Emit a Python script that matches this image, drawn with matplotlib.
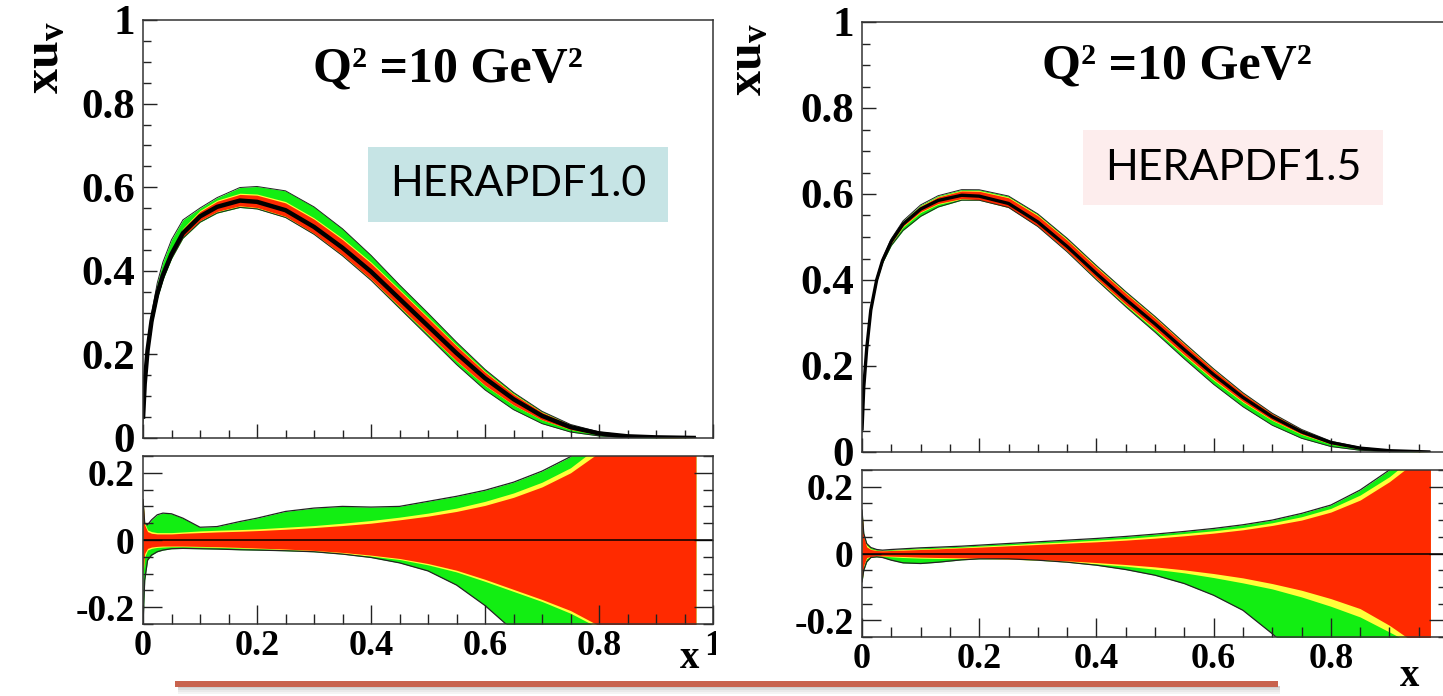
import numpy as np
import matplotlib
matplotlib.use('Agg')
import matplotlib.pyplot as plt
from matplotlib.patches import Rectangle
from matplotlib.ticker import MultipleLocator, FixedLocator, FixedFormatter

plt.rcParams['font.family'] = ['Liberation Serif', 'DejaVu Serif']
plt.rcParams['font.weight'] = 'bold'
plt.rcParams['mathtext.fontset'] = 'custom'
plt.rcParams['mathtext.rm'] = 'Liberation Serif:bold'
plt.rcParams['mathtext.it'] = 'Liberation Serif:bold'
plt.rcParams['mathtext.bf'] = 'Liberation Serif:bold'
plt.rcParams['axes.unicode_minus'] = False

W, H = 1443, 696

# ============================================================
# data: x grid shared by both panels
# ============================================================
x_grid = [0, 0.003, 0.008, 0.015, 0.025, 0.035, 0.05, 0.07, 0.1, 0.13, 0.17, 0.2,
          0.25, 0.3, 0.35, 0.4, 0.45, 0.5, 0.55, 0.6, 0.65, 0.7, 0.75, 0.8, 0.85,
          0.9, 0.97]

# HERAPDF1.0 central xu_v
xuv_10 = [0.046, 0.13, 0.21, 0.28, 0.345, 0.39, 0.44, 0.49, 0.53, 0.553, 0.568,
          0.565, 0.545, 0.505, 0.455, 0.398, 0.333, 0.268, 0.203, 0.143, 0.093,
          0.053, 0.026, 0.011, 0.004, 0.0015, 0.0]
# HERAPDF1.0 relative uncertainties (green = total, yellow = model, red = exp.)
g_up_10 = [0.12, 0.05, 0.045, 0.06, 0.075, 0.08, 0.078, 0.065, 0.038, 0.04, 0.055,
           0.065, 0.085, 0.095, 0.1, 0.098, 0.1, 0.115, 0.13, 0.148, 0.172, 0.205,
           0.248, 0.32, 0.42, 0.55, 0.7]
y_up_10 = [0.12, 0.05, 0.03, 0.025, 0.022, 0.022, 0.022, 0.024, 0.027, 0.029, 0.031,
           0.033, 0.038, 0.043, 0.05, 0.058, 0.068, 0.08, 0.095, 0.115, 0.14, 0.172,
           0.215, 0.28, 0.38, 0.5, 0.65]
r_up_10 = [0.12, 0.045, 0.025, 0.02, 0.018, 0.018, 0.018, 0.02, 0.022, 0.024, 0.026,
           0.028, 0.032, 0.037, 0.043, 0.05, 0.06, 0.071, 0.085, 0.103, 0.127, 0.158,
           0.2, 0.26, 0.35, 0.47, 0.6]
g_lo_10 = [-0.25, -0.12, -0.06, -0.045, -0.035, -0.03, -0.026, -0.025, -0.026, -0.027,
           -0.029, -0.03, -0.032, -0.035, -0.042, -0.052, -0.068, -0.092, -0.134,
           -0.195, -0.27, -0.35, -0.45, -0.55, -0.7, -0.85, -1.0]
y_lo_10 = [-0.1, -0.05, -0.03, -0.025, -0.022, -0.021, -0.02, -0.02, -0.021, -0.022,
           -0.024, -0.026, -0.029, -0.033, -0.04, -0.048, -0.058, -0.074, -0.095,
           -0.123, -0.153, -0.183, -0.218, -0.262, -0.32, -0.4, -0.5]
r_lo_10 = [-0.1, -0.04, -0.025, -0.021, -0.019, -0.018, -0.018, -0.018, -0.019, -0.02,
           -0.022, -0.024, -0.027, -0.031, -0.037, -0.045, -0.055, -0.07, -0.09,
           -0.117, -0.147, -0.177, -0.21, -0.255, -0.31, -0.39, -0.48]

# HERAPDF1.5 central xu_v
xuv_15 = [0.05, 0.15, 0.24, 0.33, 0.40, 0.445, 0.49, 0.53, 0.565, 0.585, 0.597,
          0.595, 0.578, 0.535, 0.478, 0.415, 0.355, 0.298, 0.238, 0.18, 0.127,
          0.082, 0.047, 0.022, 0.009, 0.003, 0.0]
g_up_15 = [0.13, 0.06, 0.03, 0.018, 0.012, 0.01, 0.012, 0.014, 0.017, 0.019, 0.022,
           0.025, 0.03, 0.035, 0.04, 0.045, 0.051, 0.058, 0.066, 0.075, 0.086, 0.1,
           0.12, 0.145, 0.19, 0.25, 0.35]
y_up_15 = [0.13, 0.055, 0.025, 0.014, 0.01, 0.009, 0.01, 0.012, 0.014, 0.016, 0.019,
           0.022, 0.026, 0.031, 0.035, 0.04, 0.045, 0.052, 0.06, 0.068, 0.078, 0.092,
           0.11, 0.135, 0.175, 0.23, 0.33]
r_up_15 = [0.13, 0.05, 0.02, 0.012, 0.009, 0.008, 0.009, 0.01, 0.012, 0.014, 0.017,
           0.019, 0.023, 0.027, 0.031, 0.035, 0.04, 0.046, 0.053, 0.061, 0.071, 0.084,
           0.1, 0.124, 0.16, 0.215, 0.31]
g_lo_15 = [-0.085, -0.05, -0.025, -0.012, -0.01, -0.012, -0.02, -0.028, -0.03, -0.026,
           -0.019, -0.016, -0.016, -0.02, -0.026, -0.035, -0.048, -0.065, -0.09,
           -0.125, -0.17, -0.24, -0.32, -0.42, -0.55, -0.7, -0.9]
y_lo_15 = [-0.085, -0.04, -0.015, -0.01, -0.008, -0.008, -0.01, -0.012, -0.014, -0.015,
           -0.015, -0.015, -0.017, -0.02, -0.025, -0.031, -0.038, -0.047, -0.058,
           -0.072, -0.088, -0.106, -0.13, -0.158, -0.19, -0.235, -0.3]
r_lo_15 = [-0.085, -0.035, -0.012, -0.009, -0.007, -0.007, -0.008, -0.009, -0.011,
           -0.012, -0.013, -0.014, -0.016, -0.018, -0.022, -0.027, -0.033, -0.04,
           -0.049, -0.06, -0.073, -0.09, -0.11, -0.135, -0.165, -0.215, -0.3]

top_ticks = [0, 0.2, 0.4, 0.6, 0.8, 1]
top_labels = ['0', '0.2', '0.4', '0.6', '0.8', '1']
top_labels_cut = ['0', '0.2', '0.4', '0.6', '0.8', '']   # right picture is cut at x=1
rat_ticks = [-0.2, 0, 0.2]
rat_labels = ['-0.2', '0', '0.2']

GREEN, YELLOW, RED = '#12EE12', '#FFFF3A', '#FF2A00'


def fr(x0, y0, x1, y1):
    # pixel box -> figure fraction [left, bottom, width, height]
    return [x0 / W, 1 - y1 / H, (x1 - x0) / W, (y1 - y0) / H]


def style(ax, ylo, yhi, yticks, ylabels, ysize, xlabels, right_ticks, big, small):
    ax.set_xlim(0, 1)
    ax.set_ylim(ylo, yhi)
    ax.xaxis.set_major_locator(FixedLocator(top_ticks))
    ax.xaxis.set_minor_locator(MultipleLocator(0.05))
    ax.yaxis.set_major_locator(FixedLocator(yticks))
    ax.yaxis.set_minor_locator(MultipleLocator(0.05))
    ax.yaxis.set_major_formatter(FixedFormatter(ylabels))
    if xlabels:
        ax.xaxis.set_major_formatter(FixedFormatter(xlabels))
    else:
        ax.set_xticklabels([])
    ax.tick_params(which='both', direction='in', top=False, right=right_ticks,
                   width=1.0, color='#222222')
    ax.tick_params(which='major', length=big)
    ax.tick_params(which='minor', length=small)
    ax.tick_params(axis='y', labelsize=ysize, pad=6)
    ax.tick_params(axis='x', labelsize=26, pad=4)
    for s in ax.spines.values():
        s.set_linewidth(1.1)
        s.set_color('#333333')


def panel(ax_t, ax_r, xc, yc, gu, yu, ru, gl, yl, rl, clw):
    x = np.array(xc)
    c = np.array(yc)
    # top: absolute bands
    ax_t.fill_between(x, c * (1 + np.array(gl)), c * (1 + np.array(gu)),
                      color=GREEN, lw=0)
    ax_t.fill_between(x, c * (1 + np.array(yl)), c * (1 + np.array(yu)),
                      color=YELLOW, lw=0)
    ax_t.fill_between(x, c * (1 + np.array(rl)), c * (1 + np.array(ru)),
                      color=RED, lw=0)
    ax_t.plot(x, c * (1 + np.array(gu)), color='#222222', lw=0.7)
    ax_t.plot(x, c * (1 + np.array(gl)), color='#222222', lw=0.7)
    ax_t.plot(x, c, color='black', lw=clw, solid_capstyle='butt')
    # bottom: relative bands
    ax_r.fill_between(x, gl, gu, color=GREEN, lw=0)
    ax_r.fill_between(x, yl, yu, color=YELLOW, lw=0)
    ax_r.fill_between(x, rl, ru, color=RED, lw=0)
    ax_r.plot(x, gu, color='#222222', lw=0.9)
    ax_r.plot(x, gl, color='#222222', lw=0.9)
    ax_r.axhline(0, color='black', lw=1.1)


fig = plt.figure(figsize=(W / 100, H / 100), dpi=100)

# --- left: HERAPDF1.0 ---
axL = fig.add_axes(fr(143, 20, 713, 438), zorder=0)
axLr = fig.add_axes(fr(143, 456, 713, 624), zorder=0)
panel(axL, axLr, x_grid, xuv_10, g_up_10, y_up_10, r_up_10,
      g_lo_10, y_lo_10, r_lo_10, 3.2)
style(axL, 0, 1, top_ticks, top_labels, 31, None, False, 10, 5.5)
style(axLr, -0.25, 0.25, rat_ticks, rat_labels, 27, top_labels, True, 14, 7)

# white cover: right picture overlaps the left one
fig.patches.append(Rectangle((716 / W, 0), 1 - 716 / W, 1, transform=fig.transFigure,
                             facecolor='white', edgecolor='none', zorder=0.5))

# --- right: HERAPDF1.5 ---
axR = fig.add_axes(fr(862, 22, 1448, 452), zorder=1)
axRr = fig.add_axes(fr(862, 470, 1448, 637), zorder=1)
panel(axR, axRr, x_grid, xuv_15, g_up_15, y_up_15, r_up_15,
      g_lo_15, y_lo_15, r_lo_15, 2.4)
style(axR, 0, 1, top_ticks, top_labels, 31, None, False, 10, 5.5)
style(axRr, -0.25, 0.25, rat_ticks, rat_labels, 27, top_labels_cut, True, 14, 7)

# --- texts ---
for cx, cy in [(46, 58), (749, 60)]:
    fig.text(cx / W, 1 - cy / H, r'$\mathrm{xu_{v}}$', rotation=90, fontsize=36,
             ha='center', va='center', zorder=3)
for cx, cy in [(448, 70), (1177, 67)]:
    fig.text(cx / W, 1 - cy / H, 'Q² =10 GeV²', fontsize=36, fontweight='bold',
             ha='center', va='center', zorder=3)
for cx, cy in [(690, 658), (1410, 676)]:
    fig.text(cx / W, 1 - cy / H, 'x', fontsize=28, fontweight='bold',
             ha='center', va='center', zorder=3)

boxes = [('HERAPDF1.0', 368, 147, 668, 222, '#C6E4E5'),
         ('HERAPDF1.5', 1083, 130, 1383, 205, '#FDEDED')]
for label, x0, y0, x1, y1, col in boxes:
    fig.patches.append(Rectangle((x0 / W, 1 - y1 / H), (x1 - x0) / W, (y1 - y0) / H,
                                 transform=fig.transFigure, facecolor=col,
                                 edgecolor='none', zorder=2))
    fig.text((x0 + x1) / 2 / W, 1 - (y0 + y1) / 2 / H, label, fontsize=31,
             fontweight='normal', family=['Lato', 'DejaVu Sans'],
             ha='center', va='center', zorder=3)

# --- decorative underline with shadow ---
for i, a in enumerate([0.35, 0.25, 0.15, 0.08]):
    fig.patches.append(Rectangle((178 / W, 1 - (688 + 2 * i) / H), 1102 / W, 2 / H,
                                 transform=fig.transFigure, facecolor='#777777',
                                 edgecolor='none', alpha=a, zorder=3))
fig.patches.append(Rectangle((175 / W, 1 - 687 / H), 1103 / W, 6 / H,
                             transform=fig.transFigure, facecolor='#C8634E',
                             edgecolor='none', zorder=4))

fig.savefig('out.png', dpi=100, facecolor='white')
